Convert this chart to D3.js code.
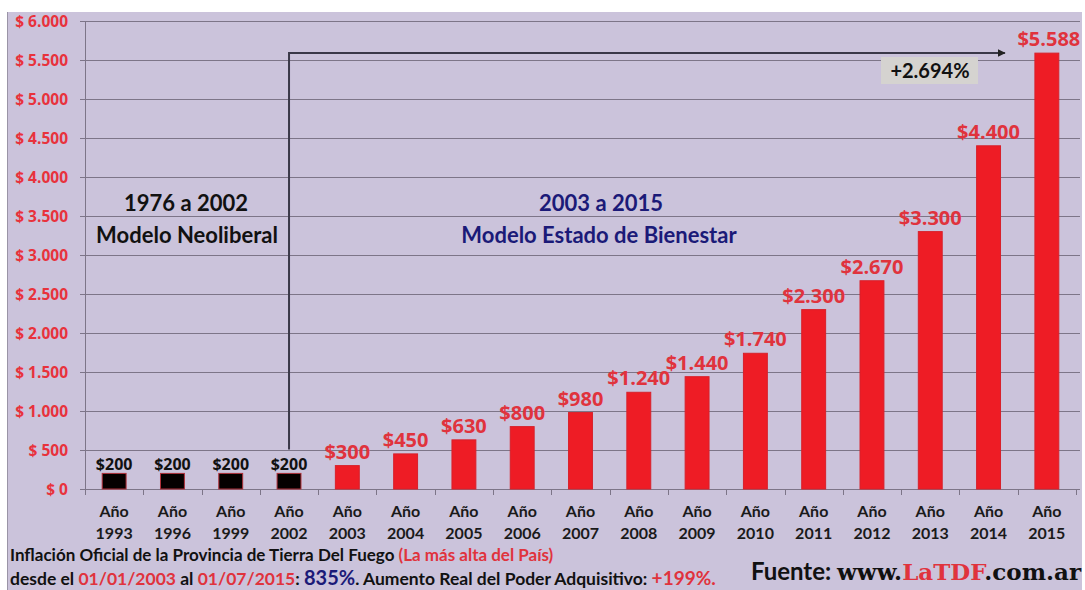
<!DOCTYPE html>
<html>
<head>
<meta charset="utf-8">
<script src="https://cdn.jsdelivr.net/npm/d3@7"></script>
<style>
  body { margin: 0; background: #fff; }
  svg { display: block; }
</style>
</head>
<body>
<div id="chart"></div>
<script>
// data
const years = ["1993", "1996", "1999", "2002", "2003", "2004", "2005", "2006", "2007",
               "2008", "2009", "2010", "2011", "2012", "2013", "2014", "2015"];
const values = [200, 200, 200, 200, 300, 450, 630, 800, 980,
                1240, 1440, 1740, 2300, 2670, 3300, 4400, 5588];
const yTicks = [0, 500, 1000, 1500, 2000, 2500, 3000, 3500, 4000, 4500, 5000, 5500, 6000];
const neoliberalYears = ["1993", "1996", "1999", "2002"];

const WIDTH = 1085;
const HEIGHT = 590;
const margin = {top: 21, right: 9, bottom: 101, left: 85};

const fmt = v => v.toString().replace(/\B(?=(\d{3})+(?!\d))/g, ".");

const svg = d3.select("#chart")
    .append("svg")
    .attr("width", WIDTH)
    .attr("height", HEIGHT);

// background panel
svg.append("rect")
    .attr("x", 7).attr("y", 12)
    .attr("width", 1075).attr("height", HEIGHT - 12)
    .attr("fill", "#cbc3db");
svg.append("line")
    .attr("x1", 7.5).attr("x2", 7.5).attr("y1", 12).attr("y2", HEIGHT)
    .attr("stroke", "#9a94a6");

const x = d3.scaleBand()
    .domain(years)
    .range([margin.left, WIDTH - margin.right])
    .paddingInner(0.59)
    .paddingOuter(0.295);

const y = d3.scaleLinear()
    .domain([0, 6000])
    .range([HEIGHT - margin.bottom, margin.top]);

// gridlines
svg.append("g")
    .selectAll("line")
    .data(yTicks)
    .join("line")
    .attr("x1", margin.left - 5)
    .attr("x2", WIDTH - margin.right + 4)
    .attr("y1", d => Math.round(y(d)) + 0.5)
    .attr("y2", d => Math.round(y(d)) + 0.5)
    .attr("stroke", "#7d7588")
    .attr("stroke-width", 1);

// y axis line
svg.append("line")
    .attr("x1", margin.left + 0.5).attr("x2", margin.left + 0.5)
    .attr("y1", y(6000)).attr("y2", y(0) + 6)
    .attr("stroke", "#7d7588");

// x tick marks at band boundaries
const step = x.step();
svg.append("g")
    .selectAll("line")
    .data(years)
    .join("line")
    .attr("x1", d => Math.round(x(d) + x.bandwidth() / 2 + step / 2) + 0.5)
    .attr("x2", d => Math.round(x(d) + x.bandwidth() / 2 + step / 2) + 0.5)
    .attr("y1", y(0))
    .attr("y2", y(0) + 6)
    .attr("stroke", "#7d7588");

// y labels
svg.append("g")
    .selectAll("text")
    .data(yTicks)
    .join("text")
    .attr("x", 68)
    .attr("y", d => y(d) + 5.5)
    .attr("text-anchor", "end")
    .style("font", "bold 15.5px 'Open Sans', sans-serif")
    .attr("fill", "#e8323c")
    .text(d => "$ " + fmt(d));

// bars
svg.append("g")
    .selectAll("rect")
    .data(years)
    .join("rect")
    .attr("x", d => x(d))
    .attr("y", (d, i) => y(values[i]))
    .attr("width", x.bandwidth())
    .attr("height", (d, i) => y(0) - y(values[i]))
    .attr("fill", d => neoliberalYears.includes(d) ? "#050000" : "#ee1c25")
    .attr("stroke", d => neoliberalYears.includes(d) ? "#b0303a" : "#d8202a")
    .attr("stroke-width", 1);

// value labels
svg.append("g")
    .selectAll("text")
    .data(years)
    .join("text")
    .attr("x", d => x(d) + x.bandwidth() / 2 + (d === "2015" ? 2 : 0))
    .attr("y", (d, i) => y(values[i]) - (neoliberalYears.includes(d) ? 3 : 7))
    .attr("text-anchor", "middle")
    .style("font", d => neoliberalYears.includes(d)
        ? "bold 16px 'Open Sans', sans-serif"
        : "bold 20px 'Open Sans', sans-serif")
    .attr("fill", d => neoliberalYears.includes(d) ? "#111" : "#e0333d")
    .text((d, i) => "$" + fmt(values[i]));

// x labels
const xl = svg.append("g")
    .selectAll("text")
    .data(years)
    .join("text")
    .attr("x", d => x(d) + x.bandwidth() / 2)
    .attr("text-anchor", "middle")
    .style("font", "bold 16px Lato, sans-serif")
    .attr("fill", "#1a1a1a");
xl.append("tspan").attr("x", d => x(d) + x.bandwidth() / 2).attr("y", 517).text("Año");
xl.append("tspan").attr("x", d => x(d) + x.bandwidth() / 2).attr("y", 539).text(d => d);

// arrow from 2002 to 2015
svg.append("defs").append("marker")
    .attr("id", "arrow")
    .attr("viewBox", "0 0 10 10")
    .attr("refX", 9).attr("refY", 5)
    .attr("markerWidth", 4).attr("markerHeight", 4)
    .attr("orient", "auto")
    .append("path")
    .attr("d", "M0,0L10,5L0,10z")
    .attr("fill", "#222");

const ax = x("2002") + x.bandwidth() / 2;
const ay = 53;
svg.append("path")
    .attr("d", `M${ax},${y(200) - 24}V${ay}H${x("2015") - 30}`)
    .attr("fill", "none")
    .attr("stroke", "#3a3848")
    .attr("stroke-width", 2)
    .attr("marker-end", "url(#arrow)");

svg.append("rect")
    .attr("x", 881).attr("y", 57)
    .attr("width", 97).attr("height", 27)
    .attr("fill", "#d5d3d0");
svg.append("text")
    .attr("x", 930).attr("y", 78)
    .attr("text-anchor", "middle")
    .style("font", "bold 20px Lato, sans-serif")
    .attr("fill", "#111")
    .text("+2.694%");

// period labels
const periodFont = "bold 22px Lato, sans-serif";
svg.append("text")
    .attr("x", 186).attr("y", 211)
    .attr("text-anchor", "middle")
    .style("font", periodFont)
    .attr("fill", "#111")
    .text("1976 a 2002");
svg.append("text")
    .attr("x", 187).attr("y", 243)
    .attr("text-anchor", "middle")
    .style("font", periodFont)
    .attr("fill", "#111")
    .text("Modelo Neoliberal");
svg.append("text")
    .attr("x", 601).attr("y", 211)
    .attr("text-anchor", "middle")
    .style("font", periodFont)
    .attr("fill", "#1b1a78")
    .text("2003 a 2015");
svg.append("text")
    .attr("x", 599).attr("y", 243)
    .attr("text-anchor", "middle")
    .style("font", periodFont)
    .attr("fill", "#1b1a78")
    .text("Modelo Estado de Bienestar");

// footnote
const f1 = svg.append("text")
    .attr("x", 10).attr("y", 561)
    .style("font", "bold 17px Lato, sans-serif")
    .attr("fill", "#111");
f1.append("tspan").text("Inflación Oficial de la Provincia de Tierra Del Fuego ");
f1.append("tspan").attr("fill", "#e0333d").text("(La más alta del País)");

const f2 = svg.append("text")
    .attr("x", 10).attr("y", 585)
    .style("font", "bold 17.5px Lato, sans-serif")
    .attr("fill", "#111");
f2.append("tspan").text("desde el ");
f2.append("tspan").attr("fill", "#e0333d").text("01/01/2003");
f2.append("tspan").text(" al ");
f2.append("tspan").attr("fill", "#e0333d").text("01/07/2015");
f2.append("tspan").text(": ");
f2.append("tspan").attr("fill", "#1b1a78").style("font-size", "20px").text("835%");
f2.append("tspan").text(". Aumento Real del Poder Adquisitivo: ");
f2.append("tspan").attr("fill", "#e0333d").style("font-size", "19px").text("+199%.");

const src = svg.append("text")
    .attr("x", 1081).attr("y", 580)
    .attr("text-anchor", "end")
    .style("font", "bold 23px 'DejaVu Serif', serif")
    .attr("fill", "#111");
src.append("tspan").style("font-family", "Lato, sans-serif").style("font-size", "24px").text("Fuente: ");
src.append("tspan").text("www.");
src.append("tspan").attr("fill", "#e0333d").text("LaTDF");
src.append("tspan").text(".com.ar");
</script>
</body>
</html>
